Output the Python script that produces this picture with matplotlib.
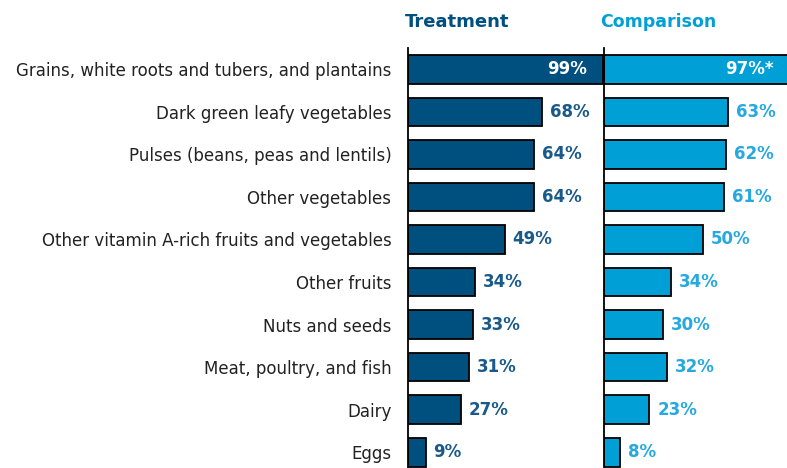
import matplotlib.pyplot as plt

categories = [
    "Grains, white roots and tubers, and plantains",
    "Dark green leafy vegetables",
    "Pulses (beans, peas and lentils)",
    "Other vegetables",
    "Other vitamin A-rich fruits and vegetables",
    "Other fruits",
    "Nuts and seeds",
    "Meat, poultry, and fish",
    "Dairy",
    "Eggs",
]
treatment = [99, 68, 64, 64, 49, 34, 33, 31, 27, 9]
comparison = [97, 63, 62, 61, 50, 34, 30, 32, 23, 8]
comparison_labels = ["97%*", "63%", "62%", "61%", "50%", "34%", "30%", "32%", "23%", "8%"]

dark_blue = "#00507F"
light_blue = "#00A0D6"
dark_text = "#1A5A8A"
light_text = "#26A8E0"

W, H = 787, 468
fig = plt.figure(figsize=(W / 100, H / 100), dpi=100)

# axes placed in pixel units: 100% spans about 197 px
top_px, bot_px = 48, 468
scale = 197
ax_t = fig.add_axes([408 / W, 0, scale / W, (bot_px - top_px) / H])
ax_c = fig.add_axes([604 / W, 0, scale / W, (bot_px - top_px) / H])

y = list(range(len(categories)))
ylim = (9.37, -0.5)


def draw(ax, vals, labels, color, tcolor, inside_off):
    ax.barh(y, vals, height=0.67, color=color, edgecolor="black", linewidth=1.3)
    ax.set_xlim(0, 100)
    ax.set_ylim(*ylim)
    for s in ["top", "right", "bottom"]:
        ax.spines[s].set_visible(False)
    ax.spines["left"].set_linewidth(1.3)
    ax.set_xticks([])
    ax.tick_params(axis="y", length=0)
    for i, (v, lab) in enumerate(zip(vals, labels)):
        if v > 90:
            ax.text(v - inside_off, i, lab, ha="right", va="center", color="white",
                    fontsize=12, fontweight="bold")
        else:
            ax.text(v + 4, i, lab, ha="left", va="center", color=tcolor,
                    fontsize=12, fontweight="bold")


draw(ax_t, treatment, [f"{v}%" for v in treatment], dark_blue, dark_text, 8)
draw(ax_c, comparison, comparison_labels, light_blue, light_text, 11)

ax_t.set_yticks(y)
ax_t.set_yticklabels(categories, fontsize=12, color="#222222")
ax_t.tick_params(axis="y", pad=12)
ax_c.set_yticks([])

fig.text(405 / W, 1 - 22 / H, "Treatment", ha="left", va="center",
         fontsize=13, fontweight="bold", color=dark_blue)
fig.text(600 / W, 1 - 22 / H, "Comparison", ha="left", va="center",
         fontsize=12.5, fontweight="bold", color=light_blue)

fig.savefig("out.png", dpi=100)
